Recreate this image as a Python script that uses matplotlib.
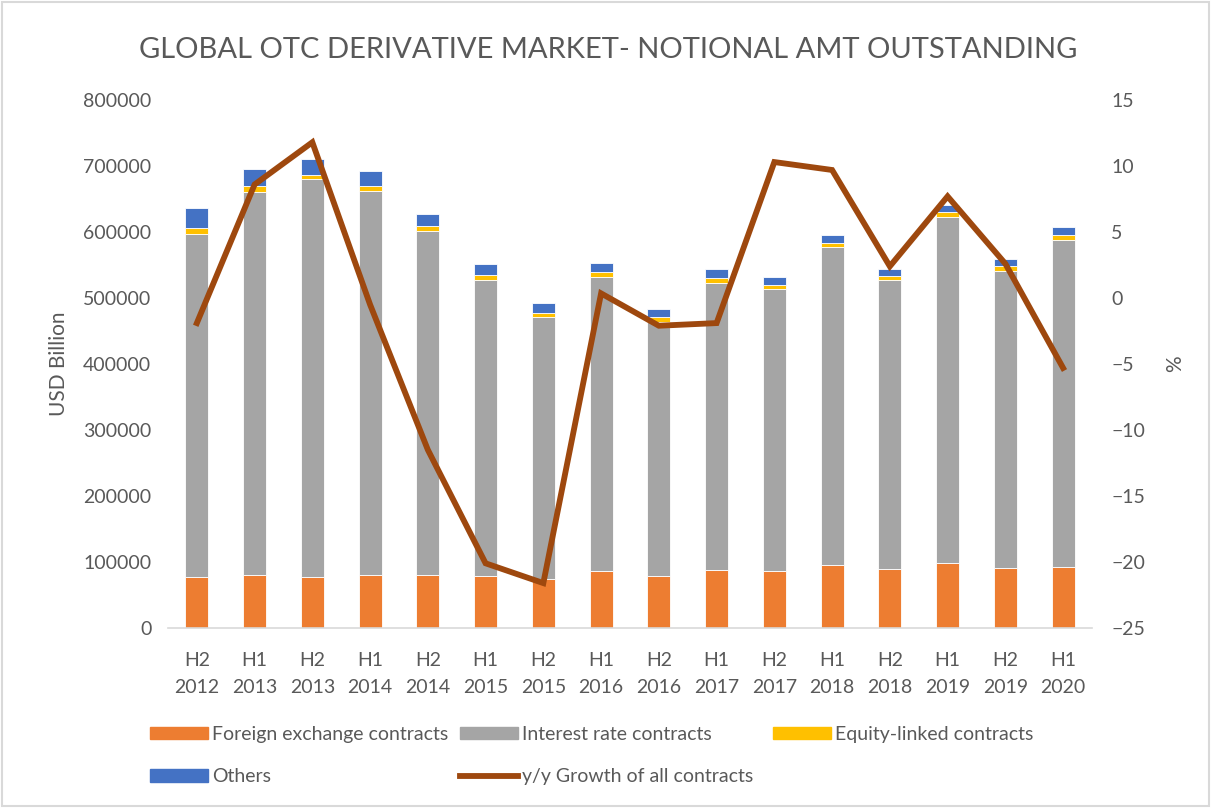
import matplotlib
matplotlib.use("Agg")
from matplotlib import pyplot as plt
from matplotlib.patches import Patch
from matplotlib.lines import Line2D
import numpy as np

plt.rcParams['font.family'] = ['Lato', 'DejaVu Sans']

# data (USD billion, % for growth)
periods = ["H2\n2012", "H1\n2013", "H2\n2013", "H1\n2014", "H2\n2014", "H1\n2015",
           "H2\n2015", "H1\n2016", "H2\n2016", "H1\n2017", "H2\n2017", "H1\n2018",
           "H2\n2018", "H1\n2019", "H2\n2019", "H1\n2020"]
fx = [77000, 80000, 78000, 81000, 81000, 79000, 74000, 86000,
      79000, 88000, 86000, 95000, 90000, 98000, 91000, 93000]
interest = [520000, 581000, 602000, 581000, 521000, 448000, 397000, 446000,
            385000, 435000, 427000, 482000, 437000, 525000, 450000, 495000]
equity = [9000, 8000, 7000, 7000, 7000, 8000, 7000, 8000,
          7000, 8000, 7000, 7000, 7000, 7000, 7000, 7000]
others = [30000, 27000, 24000, 23000, 19000, 16000, 14000, 13000,
          12000, 13000, 12000, 11000, 10000, 11000, 11000, 12000]
growth = [-1.9, 8.6, 11.8, -0.5, -11.5, -20.1, -21.6, 0.35,
          -2.1, -1.9, 10.3, 9.7, 2.4, 7.7, 2.6, -5.3]

c_fx = '#ED7D31'
c_ir = '#A5A5A5'
c_eq = '#FFC000'
c_ot = '#4472C4'
c_line = '#9E480E'
txt = '#595959'

fig = plt.figure(figsize=(12.11, 8.08), dpi=100)
ax = fig.add_axes([0.1387, 0.2228, 0.763, 0.6534])

x = np.arange(len(periods))
w = 0.4
fx_a = np.array(fx)
ir_a = np.array(interest)
eq_a = np.array(equity)
ax.bar(x, fx_a, w, color=c_fx, edgecolor='white', linewidth=0.6)
ax.bar(x, ir_a, w, bottom=fx_a, color=c_ir, edgecolor='white', linewidth=0.6)
ax.bar(x, eq_a, w, bottom=fx_a + ir_a, color=c_eq, edgecolor='white', linewidth=0.6)
ax.bar(x, others, w, bottom=fx_a + ir_a + eq_a, color=c_ot, edgecolor='white', linewidth=0.6)

ax.set_xlim(-0.5, len(periods) - 0.5)
ax.set_ylim(0, 800000)
ax.set_yticks(np.arange(0, 800001, 100000))
ax.set_xticks(x)
ax.set_xticklabels(periods, linespacing=1.75)
ax.tick_params(axis='both', length=0, labelsize=14, colors=txt, pad=12)
ax.tick_params(axis='x', pad=17)
for s in ['top', 'right', 'left']:
    ax.spines[s].set_visible(False)
ax.spines['bottom'].set_color('#D9D9D9')
ax.spines['bottom'].set_linewidth(1.2)
ax.set_ylabel("USD Billion", fontsize=15, color=txt, labelpad=10)

ax2 = ax.twinx()
ax2.plot(x, growth, color=c_line, linewidth=4.2, solid_joinstyle='miter')
ax2.set_ylim(-25, 15)
ax2.set_yticks(np.arange(-25, 16, 5))
ax2.tick_params(axis='y', length=0, labelsize=14, colors=txt, pad=14)
for s in ['top', 'right', 'left', 'bottom']:
    ax2.spines[s].set_visible(False)
ax2.set_ylabel("%", fontsize=15, color=txt, labelpad=14)

fig.text(0.502, 0.938, "GLOBAL OTC DERIVATIVE MARKET- NOTIONAL AMT OUTSTANDING",
         ha='center', va='center', fontsize=21, color=txt)

# legend, one block per column like Excel lays it out
h_fx = Patch(color=c_fx)
h_ir = Patch(color=c_ir)
h_eq = Patch(color=c_eq)
h_ot = Patch(color=c_ot)
h_ln = Line2D([0], [0], color=c_line, linewidth=4.2)
cols = [([h_fx, h_ot], ["Foreign exchange contracts", "Others"], 150),
        ([h_ir, h_ln], ["Interest rate contracts", "y/y Growth of all contracts"], 460),
        ([h_eq], ["Equity-linked contracts"], 773)]
for hs, ls, px in cols:
    fig.legend(hs, ls, loc='upper left', bbox_to_anchor=(px / 1211, 1 - 726 / 808),
               frameon=False, fontsize=14, labelcolor=txt, borderpad=0,
               borderaxespad=0, handlelength=3.0, handleheight=0.6,
               handletextpad=0.2, labelspacing=1.3)

# thin frame round the chart area
fig.patches.append(plt.Rectangle((0.002, 0.002), 0.996, 0.996, transform=fig.transFigure,
                                 fill=False, edgecolor='#D9D9D9', linewidth=1.5))

fig.savefig("out.png", dpi=100)
